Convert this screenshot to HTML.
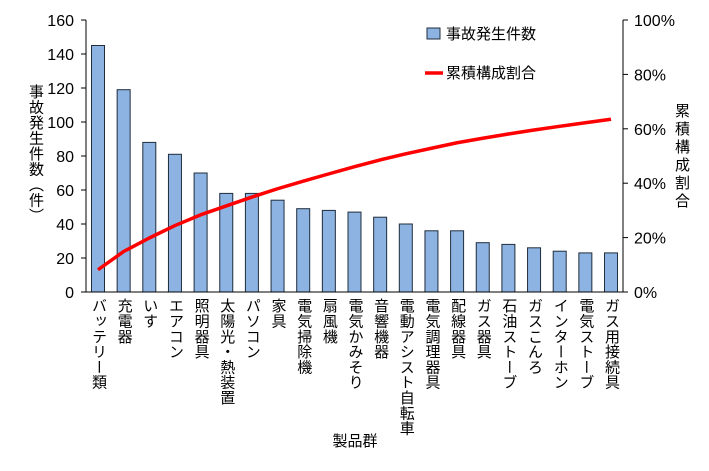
<!DOCTYPE html>
<html><head><meta charset="utf-8"><style>
body{margin:0;background:#fff;width:709px;height:471px;overflow:hidden}
svg text{font-family:"Liberation Sans","Noto Sans CJK JP",sans-serif;fill:#000}
.v{position:absolute;writing-mode:vertical-rl;font-family:"Liberation Sans","Noto Sans CJK JP",sans-serif;color:#000}
.cat{top:298px;font-size:15px;line-height:16px;width:16px;letter-spacing:0.3px}
</style></head><body>
<div style="position:relative;width:709px;height:471px">
<svg width="709" height="471" style="position:absolute;left:0;top:0">
<g id="g"></g>
</svg>
<div id="cats"></div>
<div class="v" style="left:27px;top:84px;font-size:15px;line-height:16px;letter-spacing:0.5px">事故発生件数（件）</div>
<div class="v" style="left:672px;top:103px;font-size:15px;line-height:18px;letter-spacing:3px">累積構成割合</div>
</div>
<script>
var vals=[145,119,88,81,70,58,58,54,49,48,47,44,40,36,36,29,28,26,24,23,23];
var names=["バッテリー類","充電器","いす","エアコン","照明器具","太陽光・熱装置","パソコン","家具","電気掃除機","扇風機","電気かみそり","音響機器","電動アシスト自転車","電気調理器具","配線器具","ガス器具","石油ストーブ","ガスこんろ","インターホン","電気ストーブ","ガス用接続具"];
var y0=292,sc=272/160,sp=25.65,total=1773;
var s='';
for(var i=0;i<=8;i++){var y=y0-i*20*sc;s+='<line x1="81" x2="86" y1="'+y+'" y2="'+y+'" stroke="#000"/><text x="74" y="'+(y+6)+'" font-size="16" text-anchor="end">'+(i*20)+'</text>';}
for(var i=0;i<=5;i++){var y=y0-i*20/100*272;s+='<line x1="623" x2="628" y1="'+y+'" y2="'+y+'" stroke="#000"/><text x="634" y="'+(y+6)+'" font-size="16">'+(i*20)+'%</text>';}
var cum=0,pts=[],cats='';
vals.forEach(function(v,i){var c=98+i*sp,h=v*sc;s+='<rect x="'+(c-6.5)+'" y="'+(y0-h)+'" width="13" height="'+h+'" fill="#8db3e2" stroke="#1f2d3d" stroke-width="1"/>';cum+=v;pts.push(c+','+(y0-cum/total*272));
cats+='<div class="v cat" style="left:'+(c-8)+'px">'+names[i]+'</div>';});
s+='<line x1="86" x2="86" y1="20" y2="292" stroke="#000"/><line x1="623" x2="623" y1="20" y2="292" stroke="#000"/><line x1="86" x2="623" y1="292" y2="292" stroke="#000"/>';
s+='<polyline points="'+pts.join(' ')+'" fill="none" stroke="#f00" stroke-width="3.5" stroke-linejoin="round"/>';
s+='<rect x="427" y="28" width="13" height="11" fill="#8db3e2" stroke="#1f2d3d"/><text x="446" y="39" font-size="15">事故発生件数</text>';
s+='<line x1="425" x2="443" y1="73" y2="73" stroke="#f00" stroke-width="3.5"/><text x="446" y="78" font-size="15">累積構成割合</text>';
s+='<text x="355" y="446" font-size="15" text-anchor="middle">製品群</text>';
document.getElementById('g').innerHTML=s;
document.getElementById('cats').innerHTML=cats;
</script>
</body></html>
